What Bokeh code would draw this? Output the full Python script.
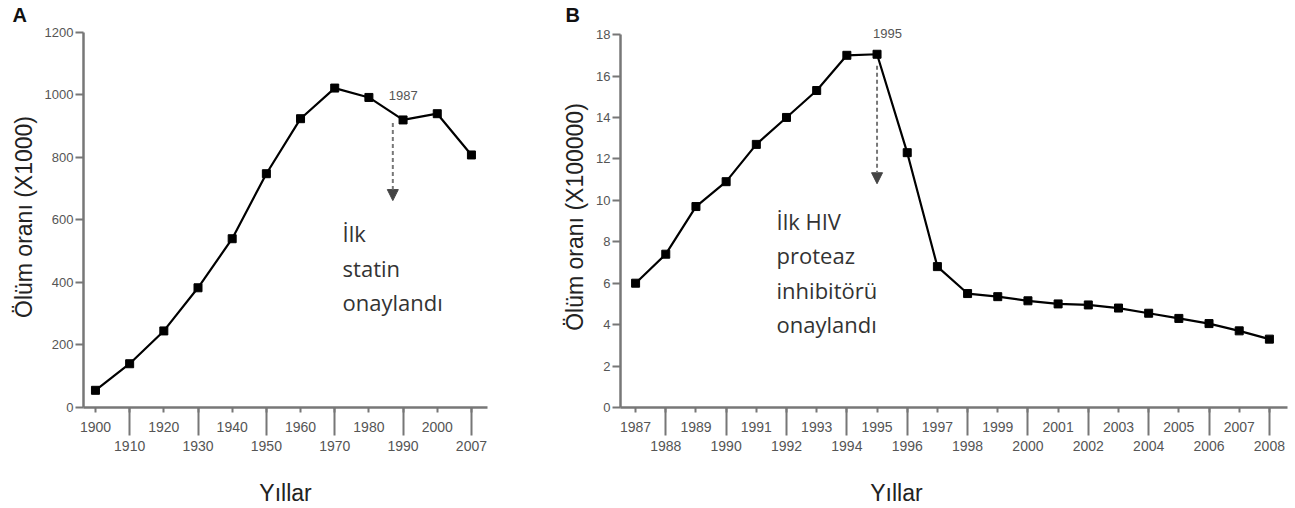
from bokeh.plotting import figure
from bokeh.layouts import row
from bokeh.models import Range1d, FixedTicker, Arrow, NormalHead, Label
from bokeh.embed import file_html
from bokeh.resources import INLINE

# ---------------- data ----------------
a_years = ["1900", "1910", "1920", "1930", "1940", "1950", "1960", "1970", "1980", "1990", "2000", "2007"]
a_values = [55, 140, 245, 383, 540, 748, 924, 1022, 992, 920, 940, 808]
a_yticks = [0, 200, 400, 600, 800, 1000, 1200]
a_event_year = 1987
a_event_label = "1987"
a_arrow_from = 910
a_arrow_to = 662
a_note = "İlk\nstatin\nonaylandı"
a_ylabel = "Ölüm oranı (X1000)"

b_years = ["1987", "1988", "1989", "1990", "1991", "1992", "1993", "1994", "1995", "1996", "1997",
           "1998", "1999", "2000", "2001", "2002", "2003", "2004", "2005", "2006", "2007", "2008"]
b_values = [6.0, 7.4, 9.7, 10.9, 12.7, 14.0, 15.3, 17.0, 17.05, 12.3, 6.8,
            5.5, 5.35, 5.15, 5.0, 4.95, 4.8, 4.55, 4.3, 4.05, 3.7, 3.3]
b_yticks = [0, 2, 4, 6, 8, 10, 12, 14, 16, 18]
b_event_year = 1995
b_event_label = "1995"
b_arrow_from = 16.5
b_arrow_to = 10.8
b_note = "İlk HIV\nproteaz\ninhibitörü\nonaylandı"
b_ylabel = "Ölüm oranı (X100000)"

xlabel = "Yıllar"

AX = "#777777"
TICKFONT = "Liberation Sans"


def event_pos(years, year):
    ys = [int(y) for y in years]
    for i in range(len(ys) - 1):
        if ys[i] <= year <= ys[i + 1]:
            return i + (year - ys[i]) / (ys[i + 1] - ys[i])
    return float(len(ys) - 1)


def panel(letter, years, values, yticks, ylabel, xr, yr, width, height, mb, ev_year, ev_label,
          ev_label_y, arr_from, arr_to, note, note_x, note_y, xtitle, letter_offset):
    n = len(years)
    xs = list(range(n))
    p = figure(width=width, height=height, x_range=Range1d(*xr), y_range=Range1d(*yr),
               output_backend="svg", toolbar_location=None,
               min_border_left=mb[0], min_border_right=mb[1], min_border_top=mb[2], min_border_bottom=mb[3])
    p.outline_line_color = None
    p.xgrid.visible = False
    p.ygrid.visible = False
    p.background_fill_color = "white"
    p.border_fill_color = "white"

    # panel letter
    p.title.text = letter
    p.title.text_font = "Liberation Sans"
    p.title.text_font_size = "20px"
    p.title.text_font_style = "bold"
    p.title.text_color = "#111111"
    p.title.align = "left"
    p.title.offset = letter_offset
    p.title.standoff = 1

    # x axis (staggered labels, long ticks on the lower row)
    xa = p.xaxis[0]
    xa.ticker = FixedTicker(ticks=xs, minor_ticks=[i for i in xs if i % 2 == 1])
    xa.major_label_overrides = {i: (years[i] if i % 2 == 0 else "\n" + years[i]) for i in xs}
    xa.major_tick_out = 5
    xa.major_tick_in = 0
    xa.minor_tick_out = 28
    xa.minor_tick_in = 0
    xa.axis_line_color = AX
    xa.axis_line_width = 2.5
    xa.major_tick_line_color = AX
    xa.major_tick_line_width = 2
    xa.minor_tick_line_color = AX
    xa.minor_tick_line_width = 2
    xa.major_label_text_font = TICKFONT
    xa.major_label_text_font_size = "14px"
    xa.major_label_text_color = "#555555"
    xa.major_label_standoff = -17
    xa.major_label_text_line_height = 1.2
    xa.axis_label = xtitle
    xa.axis_label_text_font = "Liberation Sans"
    xa.axis_label_text_font_size = "23px"
    xa.axis_label_text_font_style = "normal"
    xa.axis_label_text_color = "#222222"
    xa.axis_label_standoff = 23

    # y axis
    ya = p.yaxis[0]
    ya.ticker = FixedTicker(ticks=yticks)
    ya.bounds = (yticks[0], yticks[-1])
    ya.major_tick_out = 8
    ya.major_tick_in = 0
    ya.minor_tick_out = 0
    ya.axis_line_color = AX
    ya.axis_line_width = 2.5
    ya.major_tick_line_color = AX
    ya.major_tick_line_width = 2
    ya.major_label_text_font = TICKFONT
    ya.major_label_text_font_size = "13px"
    ya.major_label_text_color = "#555555"
    ya.major_label_standoff = 2
    ya.axis_label = ylabel
    ya.axis_label_text_font = "Liberation Sans"
    ya.axis_label_text_font_size = "23px"
    ya.axis_label_text_font_style = "normal"
    ya.axis_label_text_color = "#222222"
    ya.axis_label_standoff = 5

    # data
    p.line(xs, values, line_color="black", line_width=2.2)
    p.scatter(xs, values, marker="square", size=8, color="black")

    # event arrow + labels
    ex = event_pos(years, ev_year)
    p.add_layout(Arrow(x_start=ex, y_start=arr_from, x_end=ex, y_end=arr_to,
                       line_color=AX, line_width=2, line_dash="4 3",
                       end=NormalHead(size=11, fill_color="#444444", line_color="#444444")))
    p.add_layout(Label(x=ex, y=ev_label_y, text=ev_label, x_offset=-4,
                       text_font=TICKFONT, text_font_size="13px", text_color="#555555",
                       text_align="left", text_baseline="middle"))
    p.add_layout(Label(x=note_x, y=note_y, text=note, text_font="Open Sans", text_font_size="22px",
                       text_color="#333333", text_align="left", text_baseline="top",
                       text_line_height=1.15))
    return p


# B's axis title sits left of the frame centre: pad with trailing spaces
pa = panel("A", a_years, a_values, a_yticks, a_ylabel, (-0.35, 11.47), (0, 1219),
           553, 508, (83, 66, 26, 101), a_event_year, a_event_label, 998, a_arrow_from, a_arrow_to,
           a_note, 7.23, 605, xlabel, -71)
pb = panel("B", b_years, b_values, b_yticks, b_ylabel, (-0.5, 21.6), (0, 18.39),
           742, 508, (67, 8, 26, 101), b_event_year, b_event_label, 18.05, b_arrow_from, b_arrow_to,
           b_note, 4.67, 9.75, xlabel + " " * 18, -55)

layout = row(pa, pb)
open("out.html", "w").write(file_html(layout, INLINE))
